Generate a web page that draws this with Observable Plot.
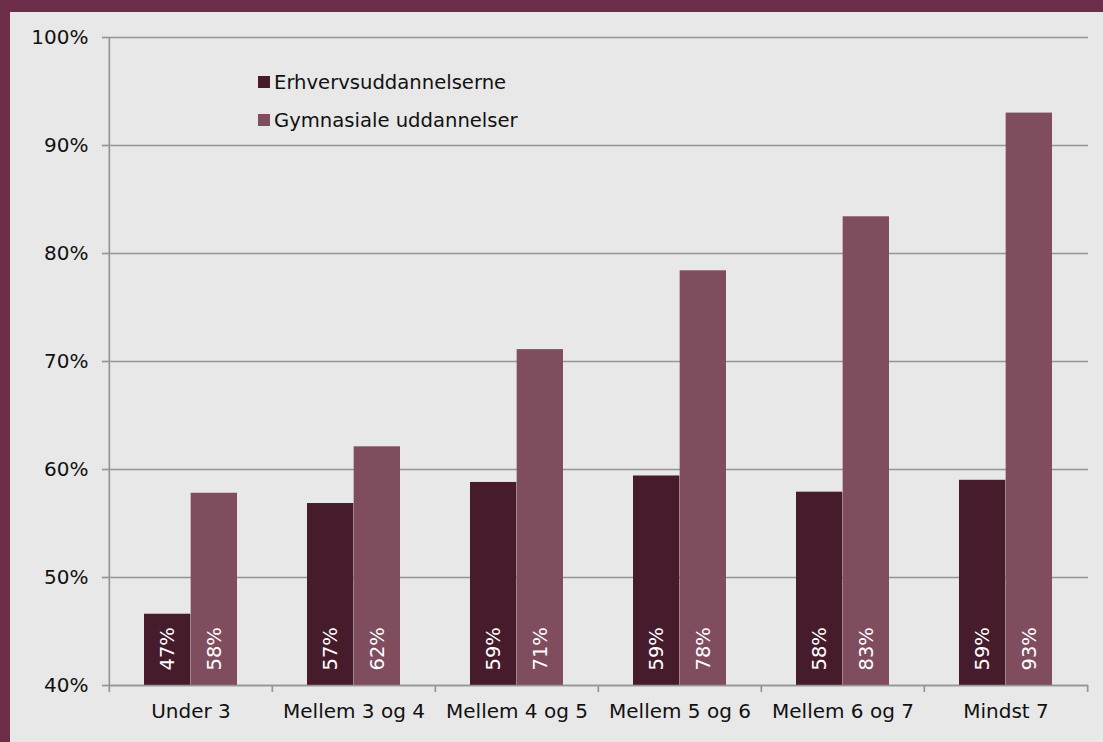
<!DOCTYPE html>
<html>
<head>
<meta charset="utf-8">
<script src="https://cdn.jsdelivr.net/npm/d3@7"></script>
<script src="https://cdn.jsdelivr.net/npm/@observablehq/plot@0.6"></script>
<style>
  html, body { margin: 0; padding: 0; background: #e8e8e8; }
  #frame {
    position: relative;
    width: 1093px; height: 730px;
    border-top: 12px solid #6b2d47;
    border-left: 10px solid #6b2d47;
    background: #e8e8e8;
    font-family: "DejaVu Sans", Verdana, sans-serif;
  }
  #legend { position: absolute; left: 248px; top: 51px; font-size: 19.6px; color: #111; }
  #legend .row { display: flex; align-items: center; height: 38px; }
  #legend .sw { width: 12px; height: 12px; margin-right: 4px; }
</style>
</head>
<body>
<div id="frame"><div id="legend"></div></div>
<script>
const categories = ["Under 3", "Mellem 3 og 4", "Mellem 4 og 5", "Mellem 5 og 6", "Mellem 6 og 7", "Mindst 7"];
const seriesNames = ["Erhvervsuddannelserne", "Gymnasiale uddannelser"];
const erhverv = [46.6, 56.85, 58.8, 59.4, 57.9, 59.0];
const gymnasiale = [57.8, 62.1, 71.1, 78.4, 83.4, 93.0];
const yTicks = [40, 50, 60, 70, 80, 90, 100];
const colors = ["#461c2d", "#804d5f"];

const W = 1093, H = 730;
const mL = 98, mR = 15, mT = 25, mB = 57;
const step = (W - mL - mR) / categories.length;
const grid = "#959595";
const fs = 20;

const rows = categories.map((c, i) => ({cat: c, e: erhverv[i], g: gymnasiale[i]}));
const base = yTicks[0];
const fmt = v => Math.round(v) + "%";

const chart = Plot.plot({
  width: W, height: H,
  marginLeft: mL, marginRight: mR, marginTop: mT, marginBottom: mB,
  style: {background: "transparent", fontFamily: "DejaVu Sans, Verdana, sans-serif", fontSize: fs + "px", color: "#111", overflow: "visible"},
  x: {type: "band", domain: categories, padding: 0, axis: null, label: null},
  y: {domain: [yTicks[0], yTicks[yTicks.length - 1]], axis: null, label: null},
  marks: [
    Plot.ruleY(yTicks, {stroke: grid, strokeWidth: 1.7}),
    Plot.axisY({ticks: yTicks, tickSize: 6, tickPadding: 14, tickFormat: d => d + "%", stroke: grid, strokeWidth: 1.7, fontSize: fs, label: null}),
    Plot.barY(rows, {x: "cat", y1: base, y2: "e", fill: colors[0], insetLeft: step * 3 / 14, insetRight: step / 2}),
    Plot.barY(rows, {x: "cat", y1: base, y2: "g", fill: colors[1], insetLeft: step / 2, insetRight: step * 3 / 14}),
    Plot.ruleY([base], {stroke: grid, strokeWidth: 1.7}),
    Plot.ruleX([categories[0]], {x: d => d, y1: base, y2: yTicks[yTicks.length - 1], dx: -step / 2, stroke: grid, strokeWidth: 1.7}),
    Plot.axisX({tickSize: 7, text: null, dx: -step / 2, stroke: grid, strokeWidth: 1.7, label: null}),
    Plot.axisX({ticks: [categories[categories.length - 1]], tickSize: 7, text: null, dx: step / 2, stroke: grid, strokeWidth: 1.7, label: null}),
    Plot.axisX({tickSize: 0, tickPadding: 18, fontSize: fs, label: null}),
    Plot.text(rows, {x: "cat", y: base, text: d => fmt(d.e), rotate: -90, textAnchor: "start", dy: -15, dx: -step / 7, fill: "white", fontSize: 19.5}),
    Plot.text(rows, {x: "cat", y: base, text: d => fmt(d.g), rotate: -90, textAnchor: "start", dy: -15, dx: step / 7, fill: "white", fontSize: 19.5})
  ]
});
document.getElementById("frame").prepend(chart);

const legend = document.getElementById("legend");
seriesNames.forEach((name, i) => {
  const row = document.createElement("div");
  row.className = "row";
  const sw = document.createElement("span");
  sw.className = "sw";
  sw.style.background = colors[i];
  const t = document.createElement("span");
  t.textContent = name;
  row.append(sw, t);
  legend.append(row);
});
</script>
</body>
</html>
